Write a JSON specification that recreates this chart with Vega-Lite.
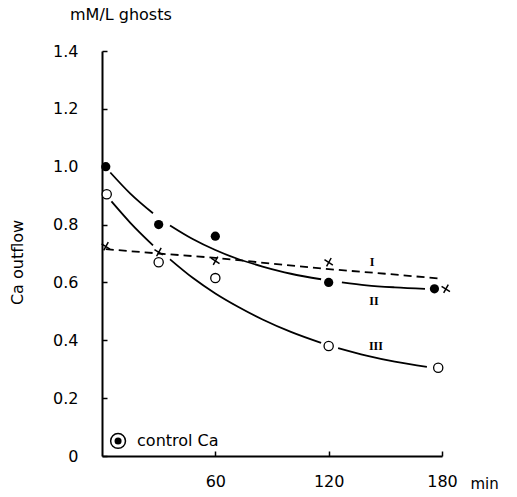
{
  "$schema": "https://vega.github.io/schema/vega-lite/v6.json",
  "width": 340,
  "height": 405,
  "autosize": {"type": "none"},
  "padding": {"left": 102, "top": 51, "right": 75, "bottom": 41},
  "background": "white",
  "config": {"view": {"stroke": null}, "font": "DejaVu Sans"},
  "title": {"text": "mM/L ghosts", "anchor": "start", "frame": "group", "dx": -32, "offset": 20, "fontSize": 16, "fontWeight": "normal", "color": "black"},
  "datasets": {
    "curves": [
      {"t": 4.4, "v": 0.98, "seg": "IIa"}, {"t": 15, "v": 0.907, "seg": "IIa"}, {"t": 27, "v": 0.839, "seg": "IIa"},
      {"t": 36, "v": 0.797, "seg": "IIb"}, {"t": 48, "v": 0.75, "seg": "IIb"}, {"t": 60, "v": 0.712, "seg": "IIb"}, {"t": 72, "v": 0.681, "seg": "IIb"}, {"t": 85, "v": 0.655, "seg": "IIb"}, {"t": 100, "v": 0.63, "seg": "IIb"}, {"t": 116, "v": 0.611, "seg": "IIb"},
      {"t": 127, "v": 0.6, "seg": "IIc"}, {"t": 140, "v": 0.59, "seg": "IIc"}, {"t": 155, "v": 0.583, "seg": "IIc"}, {"t": 171, "v": 0.578, "seg": "IIc"},
      {"t": 5, "v": 0.88, "seg": "IIIa"}, {"t": 15, "v": 0.806, "seg": "IIIa"}, {"t": 27, "v": 0.728, "seg": "IIIa"},
      {"t": 36, "v": 0.68, "seg": "IIIb"}, {"t": 48, "v": 0.616, "seg": "IIIb"}, {"t": 60, "v": 0.562, "seg": "IIIb"}, {"t": 72, "v": 0.516, "seg": "IIIb"}, {"t": 85, "v": 0.472, "seg": "IIIb"}, {"t": 100, "v": 0.429, "seg": "IIIb"}, {"t": 116, "v": 0.391, "seg": "IIIb"},
      {"t": 125, "v": 0.373, "seg": "IIIc"}, {"t": 140, "v": 0.347, "seg": "IIIc"}, {"t": 155, "v": 0.326, "seg": "IIIc"}, {"t": 172, "v": 0.308, "seg": "IIIc"}
    ],
    "dashed": [
      {"t": 2, "v": 0.715}, {"t": 30, "v": 0.70}, {"t": 60, "v": 0.685}, {"t": 90, "v": 0.665},
      {"t": 120, "v": 0.646}, {"t": 150, "v": 0.63}, {"t": 178, "v": 0.614}
    ],
    "filled": [
      {"t": 2, "v": 1.0}, {"t": 30, "v": 0.80}, {"t": 60, "v": 0.76}, {"t": 120, "v": 0.60}, {"t": 176, "v": 0.578}
    ],
    "open": [
      {"t": 2.5, "v": 0.905}, {"t": 30, "v": 0.67}, {"t": 60, "v": 0.615}, {"t": 120, "v": 0.38}, {"t": 178, "v": 0.305}
    ],
    "crosses": [
      {"t": 2, "v": 0.725}, {"t": 30, "v": 0.705}, {"t": 60, "v": 0.675}, {"t": 120, "v": 0.67}, {"t": 182, "v": 0.578}
    ],
    "numerals": [
      {"t": 143, "v": 0.672, "label": "I"},
      {"t": 144, "v": 0.535, "label": "II"},
      {"t": 145, "v": 0.38, "label": "III"}
    ],
    "key": [
      {"t": 8.5, "v": 0.052, "label": "control Ca"}
    ]
  },
  "layer": [
    {
      "data": {"name": "curves"},
      "mark": {"type": "line", "interpolate": "monotone", "color": "black", "strokeWidth": 1.8, "clip": false},
      "encoding": {
        "x": {
          "field": "t", "type": "quantitative",
          "scale": {"domain": [0, 180], "nice": false, "zero": false},
          "axis": {
            "values": [60, 120, 180], "grid": false,
            "title": "min", "titleX": 368, "titleY": 27, "titleAlign": "left", "titleBaseline": "middle",
            "titleFontSize": 15, "titleFontWeight": "normal", "titleColor": "black",
            "labelFontSize": 16, "labelColor": "black", "labelPadding": 22, "labelFlush": false,
            "tickSize": -5, "tickWidth": 1.5, "tickColor": "black",
            "domainColor": "black", "domainWidth": 2
          }
        },
        "y": {
          "field": "v", "type": "quantitative",
          "scale": {"domain": [0, 1.4], "nice": false},
          "axis": {
            "values": [0, 0.2, 0.4, 0.6, 0.8, 1.0, 1.2, 1.4], "grid": false,
            "labelExpr": "datum.value == 0 ? '0' : format(datum.value, '.1f')",
            "title": "Ca outflow", "titleX": -85, "titleY": 211, "titleAngle": -90, "titleAlign": "center", "titleBaseline": "middle",
            "titleFontSize": 16, "titleFontWeight": "normal", "titleColor": "black",
            "labelFontSize": 16, "labelColor": "black", "labelPadding": 29,
            "tickSize": -5, "tickWidth": 1.5, "tickColor": "black",
            "domainColor": "black", "domainWidth": 2
          }
        },
        "detail": {"field": "seg"}
      }
    },
    {
      "data": {"name": "dashed"},
      "mark": {"type": "line", "color": "black", "strokeWidth": 1.8, "strokeDash": [8, 5], "clip": false},
      "encoding": {
        "x": {"field": "t", "type": "quantitative"},
        "y": {"field": "v", "type": "quantitative"}
      }
    },
    {
      "data": {"name": "filled"},
      "mark": {"type": "point", "shape": "circle", "filled": true, "color": "black", "size": 85, "opacity": 1, "clip": false},
      "encoding": {
        "x": {"field": "t", "type": "quantitative"},
        "y": {"field": "v", "type": "quantitative"}
      }
    },
    {
      "data": {"name": "open"},
      "mark": {"type": "point", "shape": "circle", "filled": true, "fill": "white", "stroke": "black", "strokeWidth": 1.3, "size": 85, "opacity": 1, "clip": false},
      "encoding": {
        "x": {"field": "t", "type": "quantitative"},
        "y": {"field": "v", "type": "quantitative"}
      }
    },
    {
      "data": {"name": "crosses"},
      "mark": {"type": "point", "shape": "M-1,-0.6L1,0.7M-0.5,1L0.6,-1", "filled": false, "stroke": "black", "strokeWidth": 1.5, "size": 70, "opacity": 1, "clip": false},
      "encoding": {
        "x": {"field": "t", "type": "quantitative"},
        "y": {"field": "v", "type": "quantitative"}
      }
    },
    {
      "data": {"name": "numerals"},
      "mark": {"type": "text", "font": "Liberation Serif", "fontSize": 12, "fontWeight": "bold", "color": "black", "align": "center", "baseline": "middle"},
      "encoding": {
        "x": {"field": "t", "type": "quantitative"},
        "y": {"field": "v", "type": "quantitative"},
        "text": {"field": "label"}
      }
    },
    {
      "data": {"name": "key"},
      "mark": {"type": "point", "shape": "circle", "filled": false, "stroke": "black", "strokeWidth": 1.5, "size": 220, "opacity": 1},
      "encoding": {
        "x": {"field": "t", "type": "quantitative"},
        "y": {"field": "v", "type": "quantitative"}
      }
    },
    {
      "data": {"name": "key"},
      "mark": {"type": "point", "shape": "circle", "filled": true, "color": "black", "size": 50, "opacity": 1},
      "encoding": {
        "x": {"field": "t", "type": "quantitative"},
        "y": {"field": "v", "type": "quantitative"}
      }
    },
    {
      "data": {"name": "key"},
      "mark": {"type": "text", "fontSize": 16, "color": "black", "align": "left", "baseline": "middle", "dx": 19},
      "encoding": {
        "x": {"field": "t", "type": "quantitative"},
        "y": {"field": "v", "type": "quantitative"},
        "text": {"field": "label"}
      }
    }
  ]
}
